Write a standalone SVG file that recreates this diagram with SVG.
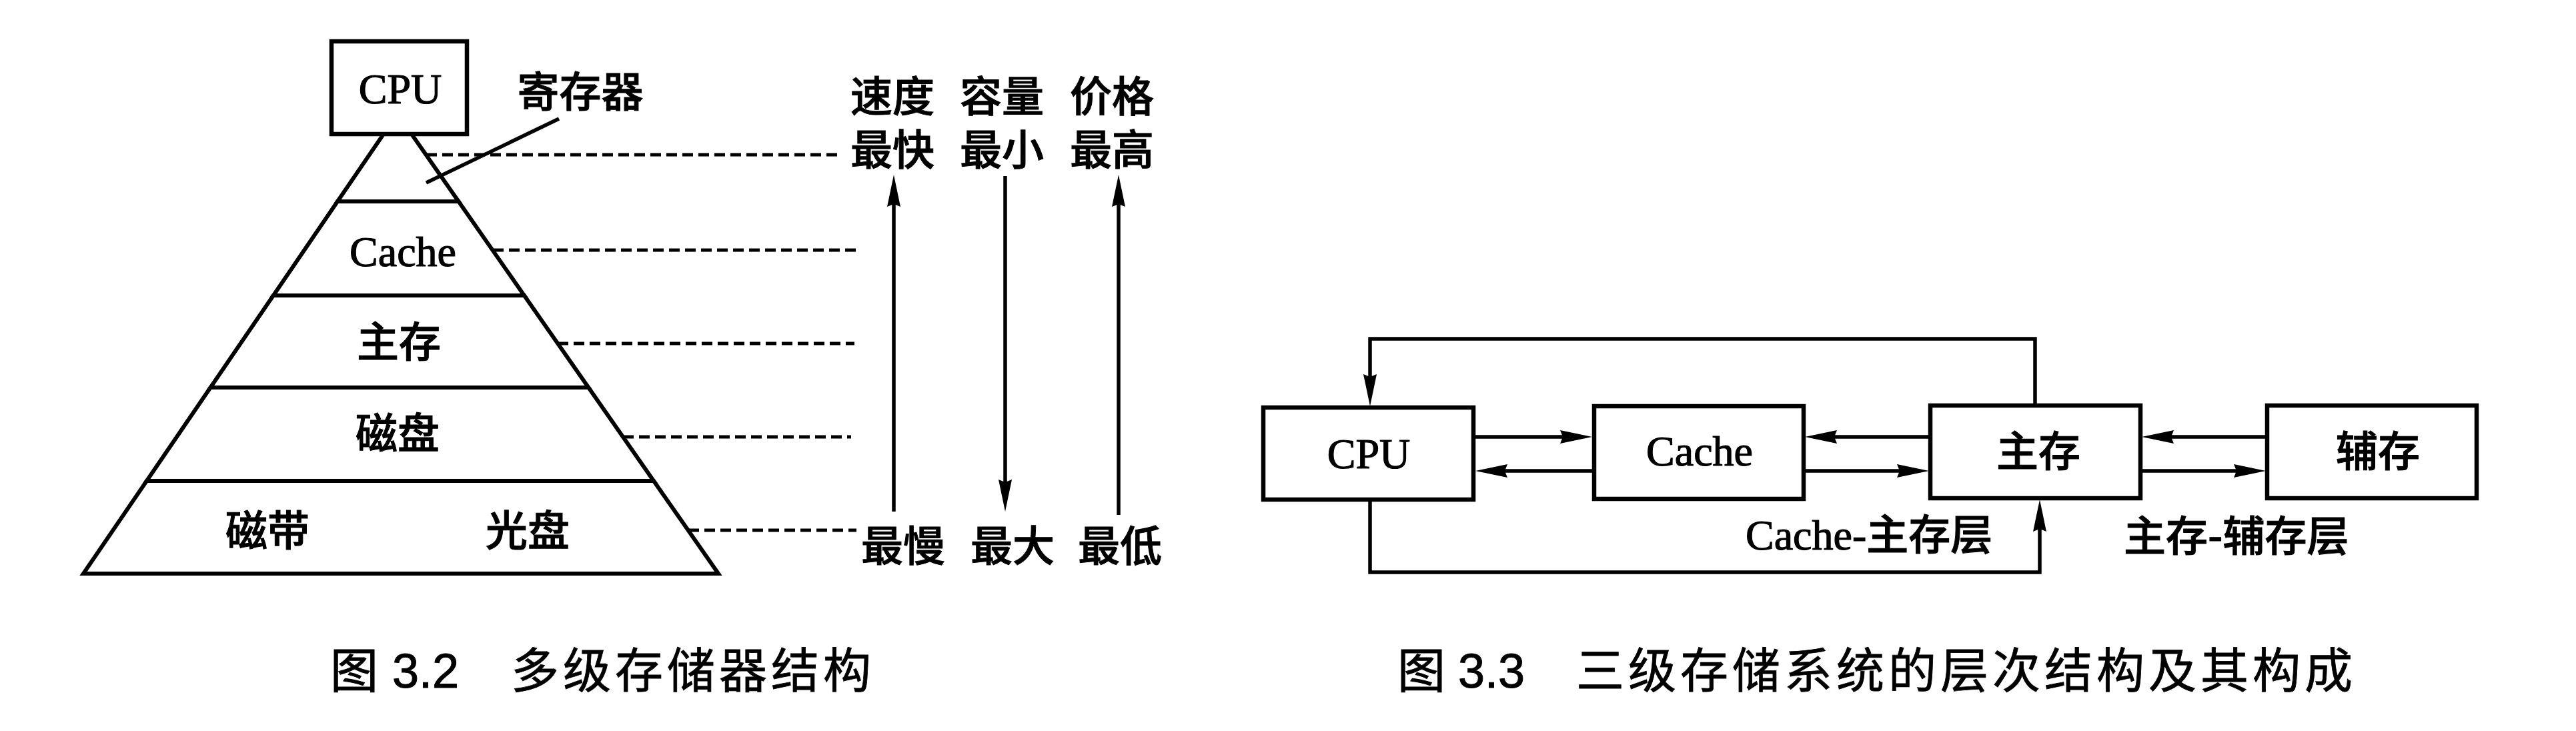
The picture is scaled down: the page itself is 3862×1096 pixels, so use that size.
<svg xmlns="http://www.w3.org/2000/svg" width="3862" height="1096" viewBox="0 0 3862 1096">
<defs>
<style>
.bg{fill:#fff}
.lv{fill:#fff;stroke:#000;stroke-width:6;stroke-linejoin:miter}
.box{fill:#fff;stroke:#000;stroke-width:6.5}
.ln{fill:none;stroke:#000;stroke-width:5.5}
.dash{fill:none;stroke:#000;stroke-width:5;stroke-dasharray:16 8}
.lat{font-family:"Liberation Serif","Noto Sans CJK SC",serif;font-size:64px;fill:#000;stroke:#000;stroke-width:1.2}
.cjk{font-family:"Noto Sans CJK SC",sans-serif;font-size:63px;font-weight:500;fill:#000;stroke:#000;stroke-width:1}
.cap{font-family:"Liberation Sans","Noto Sans CJK SC",sans-serif;font-size:72px;fill:#000;stroke:#000;stroke-width:1}
.capc{font-family:"Noto Sans CJK SC",sans-serif;font-size:72px;letter-spacing:6px;fill:#000;stroke:#000;stroke-width:0.8}
</style>
<marker id="ah" markerUnits="userSpaceOnUse" viewBox="0 0 48 20" markerWidth="48" markerHeight="20" refX="28" refY="10" orient="auto">
<path d="M0,0 L48,10 L0,20 L4,10 Z" fill="#000"/>
</marker>
</defs>
<rect class="bg" x="0" y="0" width="3862" height="1096"/>

<!-- Figure 3.2 : pyramid -->
<g id="pyr-register">
<polygon class="lv" points="575,201 617,201 687.5,302 506,302"/>
<line class="ln" x1="838" y1="178" x2="639" y2="274"/>
<text class="cjk" x="870" y="160" text-anchor="middle">寄存器</text>
</g>
<g id="pyr-cache">
<polygon class="lv" points="506,302 687.5,302 785.9,443 409.8,443"/>
<text class="lat" x="604" y="399" text-anchor="middle">Cache</text>
</g>
<g id="pyr-main">
<polygon class="lv" points="409.8,443 785.9,443 882.3,581 315.5,581"/>
<text class="cjk" x="598" y="535" text-anchor="middle">主存</text>
</g>
<g id="pyr-disk">
<polygon class="lv" points="315.5,581 882.3,581 980,721 219.9,721"/>
<text class="cjk" x="596" y="672" text-anchor="middle">磁盘</text>
</g>
<g id="pyr-tape">
<polygon class="lv" points="219.9,721 980,721 1077,860 125,860"/>
<text class="cjk" x="401" y="818" text-anchor="middle">磁带</text>
<text class="cjk" x="791" y="818" text-anchor="middle">光盘</text>
</g>
<g id="pyr-cpu">
<rect class="box" x="497" y="62" width="203" height="139"/>
<text class="lat" x="600" y="155" text-anchor="middle">CPU</text>
</g>

<g id="pyr-connectors">
<line class="dash" x1="639" y1="232" x2="1263" y2="232"/>
<line class="dash" x1="739" y1="375" x2="1284" y2="375"/>
<line class="dash" x1="836" y1="515" x2="1281" y2="515"/>
<line class="dash" x1="934" y1="655" x2="1276" y2="655"/>
<line class="dash" x1="1032" y1="795" x2="1284" y2="795"/>
<line class="ln" x1="1340" y1="767" x2="1340" y2="282" marker-end="url(#ah)"/>
<line class="ln" x1="1507" y1="264" x2="1507" y2="747" marker-end="url(#ah)"/>
<line class="ln" x1="1677" y1="772" x2="1677" y2="282" marker-end="url(#ah)"/>
</g>

<g id="scale-speed">
<text class="cjk" x="1338" y="167" text-anchor="middle">速度</text>
<text class="cjk" x="1338" y="247" text-anchor="middle">最快</text>
<text class="cjk" x="1354" y="841" text-anchor="middle">最慢</text>
</g>
<g id="scale-capacity">
<text class="cjk" x="1502" y="167" text-anchor="middle">容量</text>
<text class="cjk" x="1502" y="247" text-anchor="middle">最小</text>
<text class="cjk" x="1518" y="841" text-anchor="middle">最大</text>
</g>
<g id="scale-price">
<text class="cjk" x="1667" y="167" text-anchor="middle">价格</text>
<text class="cjk" x="1667" y="247" text-anchor="middle">最高</text>
<text class="cjk" x="1679" y="841" text-anchor="middle">最低</text>
</g>

<g id="caption-32">
<text class="cap" x="495" y="1031">图</text>
<text class="cap" x="588" y="1031">3.2</text>
<text class="capc" x="766" y="1031">多级存储器结构</text>
</g>

<!-- Figure 3.3 -->
<g id="node-cpu">
<rect class="box" x="1894" y="611" width="315" height="138"/>
<text class="lat" x="2052" y="702" text-anchor="middle">CPU</text>
</g>
<g id="node-cache">
<rect class="box" x="2390" y="609" width="314" height="139"/>
<text class="lat" x="2548" y="698" text-anchor="middle">Cache</text>
</g>
<g id="node-main">
<rect class="box" x="2894" y="608" width="315" height="139"/>
<text class="cjk" x="3056" y="699" text-anchor="middle">主存</text>
</g>
<g id="node-aux">
<rect class="box" x="3399" y="608" width="314" height="139"/>
<text class="cjk" x="3565" y="699" text-anchor="middle">辅存</text>
</g>

<g id="connectors">
<path class="ln" d="M3051,608 V508 H2054 V589" marker-end="url(#ah)"/>
<path class="ln" d="M2054,750 V858 H3058 V769" marker-end="url(#ah)"/>
<line class="ln" x1="2209" y1="655" x2="2367" y2="655" marker-end="url(#ah)"/>
<line class="ln" x1="2390" y1="706" x2="2232" y2="706" marker-end="url(#ah)"/>
<line class="ln" x1="2894" y1="655" x2="2726" y2="655" marker-end="url(#ah)"/>
<line class="ln" x1="2704" y1="706" x2="2872" y2="706" marker-end="url(#ah)"/>
<line class="ln" x1="3399" y1="655" x2="3231" y2="655" marker-end="url(#ah)"/>
<line class="ln" x1="3209" y1="706" x2="3377" y2="706" marker-end="url(#ah)"/>
</g>

<g id="layer-labels">
<text class="lat" x="2617" y="824">Cache-<tspan class="cjk" style="font-weight:500">主存层</tspan></text>
<text class="cjk" x="3184" y="826">主存-辅存层</text>
</g>

<g id="caption-33">
<text class="cap" x="2095" y="1031">图</text>
<text class="cap" x="2186" y="1031">3.3</text>
<text class="capc" x="2363" y="1031">三级存储系统的层次结构及其构成</text>
</g>
</svg>
